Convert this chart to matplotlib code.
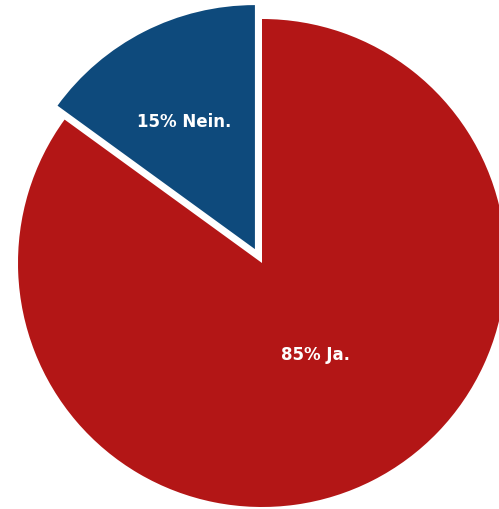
import matplotlib
matplotlib.use('Agg')
import matplotlib.pyplot as plt

# data
answers = ['Ja.', 'Nein.']
shares = [85, 15]
colors = ['#B31616', '#0E4A7C']
explode = [0, 15.6]  # pie() uses data units here, radius is 244

fig = plt.figure(figsize=(4.99, 5.10), dpi=100)
ax = fig.add_axes([0, 0, 1, 1])

wedges, _ = ax.pie(shares, colors=colors, explode=explode, startangle=90,
                   counterclock=False, center=(262, 246), radius=244,
                   wedgeprops={'linewidth': 0}, frame=True)
ax.set_xlim(0, 499)
ax.set_ylim(0, 510)
ax.set_aspect('equal')
ax.axis('off')

# label positions (pixels from the top-left)
label_pos = [(316, 355), (184, 122)]
for share, answer, (x, y) in zip(shares, answers, label_pos):
    ax.text(x, 510 - y, f'{share}% {answer}', color='white', fontsize=12,
            fontweight='bold', family='DejaVu Sans', ha='center', va='center')

fig.savefig('out.png', dpi=100)
